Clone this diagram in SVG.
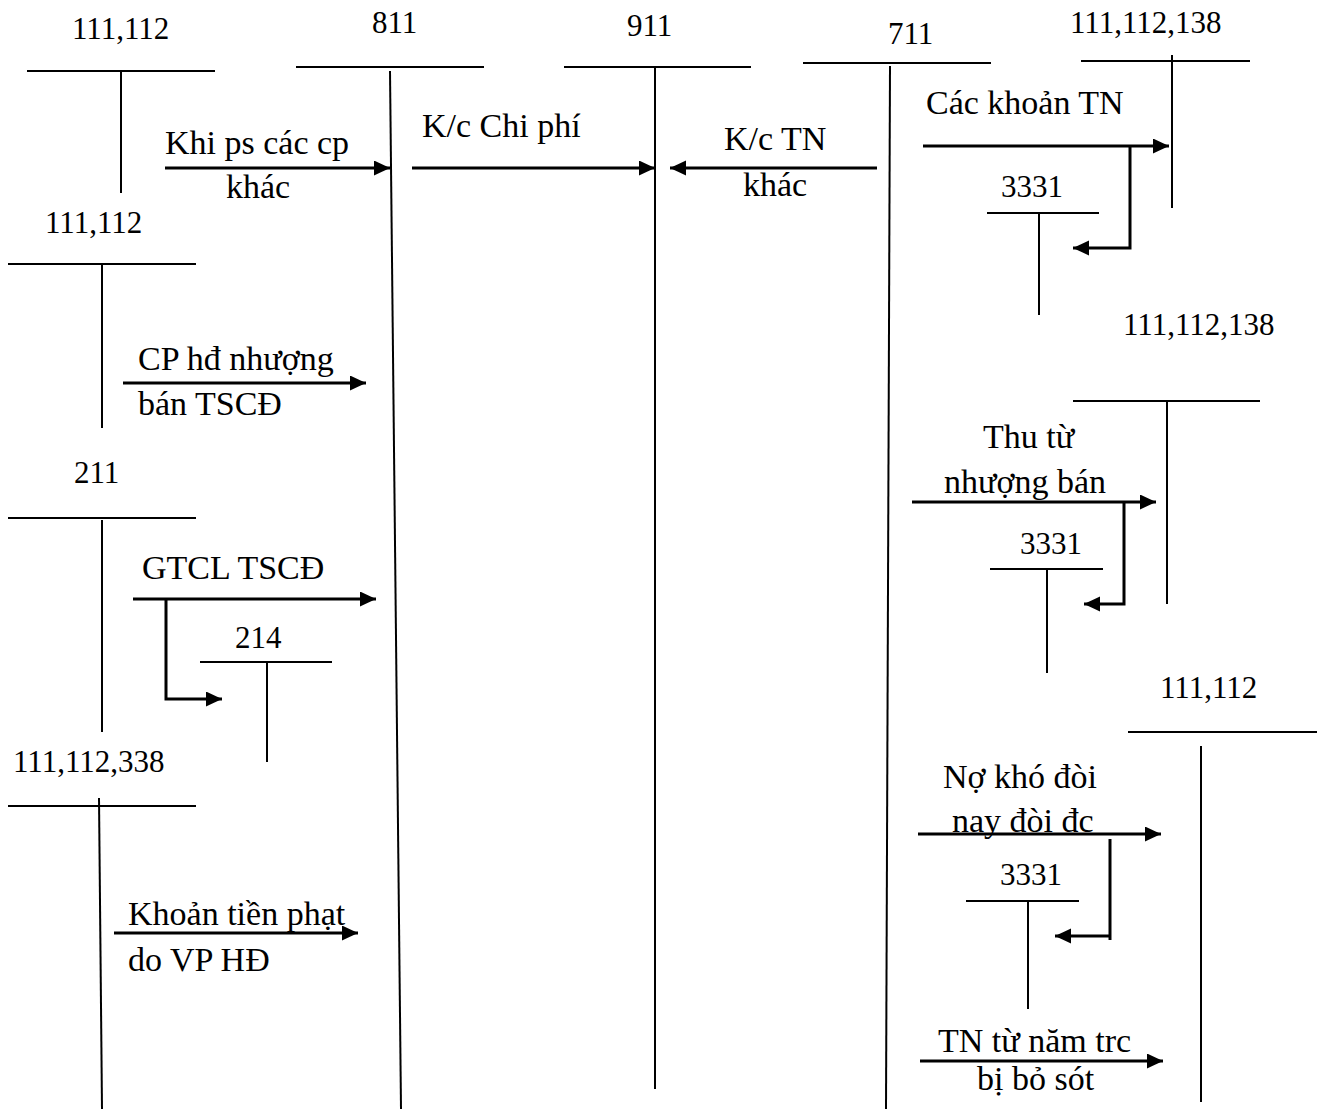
<svg xmlns="http://www.w3.org/2000/svg" width="1323" height="1109" viewBox="0 0 1323 1109">
<style>
text{font-family:"Liberation Serif","Times New Roman",serif;fill:#000}
.n{font-size:31px}
.l{font-size:34px}
.t{stroke:#000;stroke-width:2;fill:none}
.a{stroke:#000;stroke-width:3;fill:none}
</style>
<defs>
<marker id="ah" markerUnits="userSpaceOnUse" markerWidth="17" markerHeight="16" refX="16" refY="7.5" orient="auto">
<path d="M0,0 L16,7.5 L0,15 z" fill="#000"/>
</marker>
</defs>
<rect width="1323" height="1109" fill="#fff"/>
<g id="acc-111-112-a"><text class="n" x="72" y="39">111,112</text><line class="t" x1="27" y1="71" x2="215" y2="71"/><line class="t" x1="121" y1="72" x2="121" y2="193"/></g>
<g id="acc-811"><text class="n" x="372" y="33">811</text><line class="t" x1="296" y1="67" x2="484" y2="67"/><line class="t" x1="390" y1="71" x2="401" y2="1109"/></g>
<g id="acc-911"><text class="n" x="627" y="36">911</text><line class="t" x1="564" y1="67" x2="751" y2="67"/><line class="t" x1="655" y1="67" x2="655" y2="1089"/></g>
<g id="acc-711"><text class="n" x="888" y="44">711</text><line class="t" x1="803" y1="63" x2="991" y2="63"/><line class="t" x1="890" y1="66" x2="886" y2="1109"/></g>
<g id="acc-111-112-138-a"><text class="n" x="1070" y="33">111,112,138</text><line class="t" x1="1081" y1="61" x2="1250" y2="61"/><line class="t" x1="1172" y1="55" x2="1172" y2="208"/></g>
<g id="acc-3331-a"><text class="n" x="1001" y="197">3331</text><line class="t" x1="987" y1="213" x2="1099" y2="213"/><line class="t" x1="1039" y1="213" x2="1039" y2="315"/></g>
<g id="acc-111-112-b"><text class="n" x="45" y="233">111,112</text><line class="t" x1="8" y1="264" x2="196" y2="264"/><line class="t" x1="102" y1="265" x2="102" y2="428"/></g>
<g id="acc-111-112-138-b"><text class="n" x="1123" y="335">111,112,138</text><line class="t" x1="1073" y1="401" x2="1260" y2="401"/><line class="t" x1="1167" y1="401" x2="1167" y2="604"/></g>
<g id="acc-211"><text class="n" x="74" y="483">211</text><line class="t" x1="8" y1="518" x2="196" y2="518"/><line class="t" x1="102" y1="520" x2="102" y2="732"/></g>
<g id="acc-3331-b"><text class="n" x="1020" y="554">3331</text><line class="t" x1="990" y1="569" x2="1103" y2="569"/><line class="t" x1="1047" y1="569" x2="1047" y2="673"/></g>
<g id="acc-214"><text class="n" x="235" y="648">214</text><line class="t" x1="200" y1="662" x2="332" y2="662"/><line class="t" x1="267" y1="662" x2="267" y2="762"/></g>
<g id="acc-111-112-c"><text class="n" x="1160" y="698">111,112</text><line class="t" x1="1128" y1="732" x2="1317" y2="732"/><line class="t" x1="1201" y1="746" x2="1201" y2="1102"/></g>
<g id="acc-111-112-338"><text class="n" x="13" y="772">111,112,338</text><line class="t" x1="8" y1="806" x2="196" y2="806"/><line class="t" x1="99" y1="798" x2="102" y2="1109"/></g>
<g id="acc-3331-c"><text class="n" x="1000" y="885">3331</text><line class="t" x1="966" y1="901" x2="1079" y2="901"/><line class="t" x1="1028" y1="901" x2="1028" y2="1009"/></g>
<g id="connectors">
<line class="a" x1="165" y1="168" x2="390" y2="168" marker-end="url(#ah)"/>
<line class="a" x1="412" y1="168" x2="655" y2="168" marker-end="url(#ah)"/>
<line class="a" x1="877" y1="168" x2="670" y2="168" marker-end="url(#ah)"/>
<line class="a" x1="923" y1="146" x2="1169" y2="146" marker-end="url(#ah)"/>
<polyline class="a" points="1130,146 1130,248 1073,248" marker-end="url(#ah)"/>
<line class="a" x1="123" y1="383" x2="366" y2="383" marker-end="url(#ah)"/>
<line class="a" x1="912" y1="502" x2="1156" y2="502" marker-end="url(#ah)"/>
<polyline class="a" points="1124,502 1124,604 1084,604" marker-end="url(#ah)"/>
<line class="a" x1="133" y1="599" x2="376" y2="599" marker-end="url(#ah)"/>
<polyline class="a" points="166,599 166,699 222,699" marker-end="url(#ah)"/>
<line class="a" x1="918" y1="834" x2="1161" y2="834" marker-end="url(#ah)"/>
<line class="a" x1="1110" y1="839" x2="1110" y2="940"/>
<line class="a" x1="1110" y1="936" x2="1055" y2="936" marker-end="url(#ah)"/>
<line class="a" x1="114" y1="933" x2="358" y2="933" marker-end="url(#ah)"/>
<line class="a" x1="920" y1="1061" x2="1163" y2="1061" marker-end="url(#ah)"/>
</g>
<g id="labels">
<text class="l" x="165" y="154">Khi ps các cp</text>
<text class="l" x="226" y="198">khác</text>
<text class="l" x="422" y="137">K/c Chi phí</text>
<text class="l" x="724" y="150">K/c TN</text>
<text class="l" x="743" y="196">khác</text>
<text class="l" x="926" y="114">Các khoản TN</text>
<text class="l" x="138" y="370">CP hđ nhượng</text>
<text class="l" x="138" y="415">bán TSCĐ</text>
<text class="l" x="983" y="448">Thu từ</text>
<text class="l" x="944" y="493">nhượng bán</text>
<text class="l" x="142" y="579">GTCL TSCĐ</text>
<text class="l" x="943" y="788">Nợ khó đòi</text>
<text class="l" x="952" y="832">nay đòi đc</text>
<text class="l" x="128" y="925">Khoản tiền phạt</text>
<text class="l" x="128" y="971">do VP HĐ</text>
<text class="l" x="938" y="1052">TN từ năm trc</text>
<text class="l" x="977" y="1090">bị bỏ sót</text>
</g>
</svg>
